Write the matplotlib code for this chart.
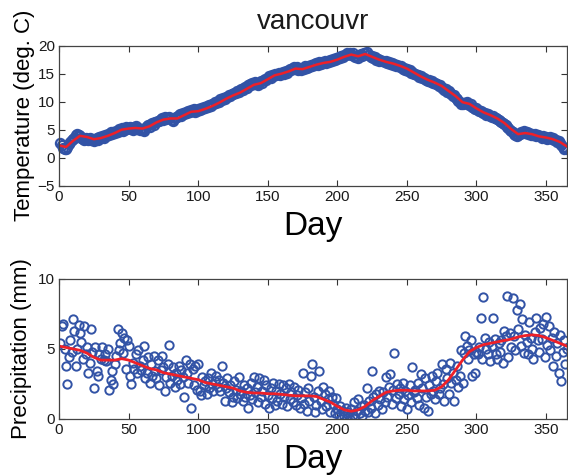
import numpy as np
import matplotlib
matplotlib.use("Agg")
import matplotlib.pyplot as plt

plt.rcParams['font.family'] = ['Liberation Sans', 'DejaVu Sans']

title = "vancouvr"
xlabel = "Day"
temp_label = "Temperature (deg. C)"
precip_label = "Precipitation (mm)"
xticks = [0, 50, 100, 150, 200, 250, 300, 350]
temp_ticks = [-5, 0, 5, 10, 15, 20]
precip_ticks = [0, 5, 10]

days = list(range(1, 366))

temperature = [
    2.6, 2.3, 1.8, 1.5, 1.6, 1.9, 2.4, 2.8, 3.1, 3.3,
    3.6, 4.0, 4.3, 4.1, 3.8, 3.6, 3.4, 3.2, 3.5, 3.4,
    3.2, 3.5, 3.1, 3.3, 3.0, 3.4, 3.6, 3.2, 3.7, 3.5,
    3.8, 3.6, 4.1, 3.9, 4.2, 4.0, 4.5, 4.3, 4.6, 4.4,
    4.8, 4.6, 5.1, 4.9, 5.3, 4.8, 5.0, 5.4, 5.1, 5.3,
    5.5, 5.2, 5.0, 5.4, 5.6, 5.2, 5.3, 4.9, 5.1, 5.0,
    4.7, 5.3, 5.6, 5.8, 5.5, 6.0, 6.2, 5.9, 6.4, 6.3,
    6.6, 6.5, 6.9, 7.1, 6.8, 7.2, 6.9, 7.0, 7.3, 7.1,
    6.8, 6.6, 7.0, 7.3, 7.2, 7.6, 7.8, 7.5, 8.0, 7.8,
    8.2, 8.0, 8.4, 8.1, 8.5, 8.3, 8.6, 8.2, 8.4, 8.7,
    8.5, 8.8, 8.6, 9.0, 8.8, 9.2, 9.0, 9.4, 9.3, 9.6,
    9.5, 9.9, 9.7, 10.1, 10.0, 10.4, 10.3, 10.7, 10.5, 10.9,
    10.8, 11.2, 11.0, 11.4, 11.3, 11.6, 11.5, 11.9, 11.7, 12.0,
    12.2, 12.0, 12.5, 12.7, 12.4, 12.9, 13.2, 13.0, 13.4, 13.1,
    13.5, 13.2, 13.0, 13.4, 13.6, 13.3, 13.8, 14.1, 13.9, 14.3,
    14.5, 14.2, 14.8, 14.6, 15.0, 14.7, 14.9, 15.2, 14.8, 15.1,
    15.3, 15.0, 15.5, 15.2, 15.7, 15.9, 15.6, 16.0, 16.2, 15.8,
    16.1, 15.7, 15.9, 15.6, 16.0, 15.8, 16.3, 16.0, 16.4, 16.2,
    16.6, 16.3, 16.7, 16.5, 16.9, 16.6, 17.0, 16.8, 17.1, 16.9,
    17.2, 16.9, 17.3, 17.0, 17.4, 17.2, 17.6, 17.4, 17.8, 17.6,
    18.0, 17.8, 18.2, 18.0, 18.4, 18.3, 18.6, 18.5, 18.7, 18.4,
    18.6, 18.2, 17.9, 18.1, 17.8, 18.3, 18.5, 18.2, 18.7, 18.6,
    18.8, 18.4, 18.3, 17.9, 18.1, 17.7, 17.9, 17.5, 17.6, 17.3,
    17.5, 17.2, 17.3, 17.0, 17.2, 16.9, 17.0, 16.7, 16.9, 16.6,
    16.7, 16.4, 16.6, 16.3, 16.1, 16.3, 15.9, 16.0, 15.7, 15.8,
    15.5, 15.6, 15.2, 15.3, 15.0, 14.9, 14.7, 14.8, 14.4, 14.5,
    14.2, 14.3, 14.0, 13.9, 13.7, 13.8, 13.5, 13.6, 13.3, 13.4,
    13.1, 13.2, 12.8, 12.9, 12.5, 12.4, 12.1, 12.2, 11.8, 11.9,
    11.5, 11.4, 11.0, 11.1, 10.7, 10.5, 10.2, 9.9, 9.6, 9.5,
    9.8, 9.7, 9.9, 9.6, 9.4, 9.5, 9.1, 8.9, 8.7, 8.8,
    8.5, 8.3, 8.4, 8.1, 8.0, 7.9, 7.7, 7.8, 7.6, 7.5,
    7.3, 7.4, 7.1, 7.0, 6.9, 6.7, 6.5, 6.4, 6.2, 6.0,
    5.8, 5.5, 5.3, 5.0, 4.8, 4.5, 4.3, 4.0, 3.8, 4.1,
    4.3, 4.5, 4.4, 4.7, 4.4, 4.6, 4.3, 4.4, 4.1, 4.2,
    4.0, 4.2, 3.9, 4.1, 3.8, 3.9, 3.6, 3.8, 3.5, 3.7,
    3.4, 3.6, 3.7, 3.3, 3.5, 3.1, 3.2, 2.8, 3.0, 2.6,
    2.3, 1.9, 1.6, 1.8, 1.5,
]

precipitation = [
    5.4, 6.6, 6.8, 5.0, 3.8, 2.5, 4.4, 5.6, 4.8, 7.1,
    6.3, 3.8, 5.0, 6.7, 6.1, 5.5, 4.3, 6.6, 4.6, 5.1,
    3.3, 4.0, 6.4, 4.8, 2.2, 5.1, 3.4, 3.1, 4.6, 4.3,
    5.1, 4.2, 4.6, 4.1, 5.0, 2.1, 2.8, 3.4, 2.5, 3.9,
    4.5, 6.4, 4.9, 5.4, 6.1, 4.7, 5.8, 3.6, 5.6, 5.2,
    3.1, 2.5, 4.0, 3.6, 4.6, 3.3, 4.9, 3.8, 3.5, 4.2,
    5.2, 2.9, 3.3, 4.4, 2.6, 3.9, 3.1, 4.5, 3.4, 2.9,
    4.2, 2.4, 3.5, 4.5, 3.7, 2.0, 3.0, 3.9, 5.3, 2.6,
    3.1, 3.7, 2.3, 3.3, 2.8, 3.8, 2.5, 3.5, 3.0, 1.6,
    4.2, 3.3, 2.6, 3.9, 0.8, 3.6, 2.4, 3.8, 2.1, 3.9,
    2.0, 1.7, 3.0, 2.4, 2.7, 1.8, 2.9, 2.2, 3.3, 2.5,
    2.0, 2.7, 3.1, 2.3, 2.8, 2.0, 3.8, 2.6, 1.3, 2.2,
    2.9, 1.9, 2.4, 1.2, 1.6, 2.7, 2.1, 1.5, 3.0, 1.8,
    2.0, 1.3, 2.4, 1.6, 2.2, 0.8, 1.7, 2.6, 1.4, 3.0,
    1.9, 2.3, 1.2, 2.9, 1.6, 2.0, 2.8, 1.1, 2.4, 1.7,
    0.8, 2.2, 1.5, 2.6, 1.0, 2.0, 1.3, 2.5, 1.8, 1.1,
    2.4, 1.6, 2.2, 0.9, 2.5, 1.4, 1.9, 1.2, 2.3, 1.0,
    1.7, 2.1, 0.8, 1.5, 3.3, 1.1, 1.9, 0.6, 2.2, 1.3,
    3.1, 3.9, 1.6, 0.5, 1.0, 2.0, 3.4, 1.3, 0.7, 2.3,
    1.8, 0.9, 1.4, 2.0, 0.5, 1.6, 1.1, 0.4, 1.5, 0.7,
    0.3, 0.9, 0.0, 0.6, 0.2, 0.8, 0.1, 0.5, 0.0, 0.7,
    0.3, 1.2, 0.1, 0.6, 1.4, 0.4, 0.9, 0.2, 1.0, 0.6,
    2.2, 0.5, 1.3, 0.8, 3.4, 1.6, 0.4, 1.8, 1.0, 2.0,
    1.4, 0.7, 1.9, 1.2, 3.0, 1.6, 2.3, 3.2, 1.1, 2.1,
    4.7, 1.5, 2.5, 1.8, 2.2, 0.9, 2.6, 1.4, 2.0, 0.7,
    1.7, 2.4, 1.2, 3.7, 1.9, 2.1, 1.5, 2.6, 1.0, 3.2,
    2.2, 0.8, 2.9, 1.6, 0.6, 2.4, 1.8, 3.1, 2.0, 1.4,
    2.7, 3.3, 1.8, 2.2, 3.9, 2.5, 1.3, 3.6, 2.9, 1.8,
    4.0, 2.6, 3.3, 1.3, 2.8, 3.8, 2.3, 3.1, 4.9, 2.6,
    4.7, 5.9, 5.2, 4.3, 4.9, 5.6, 3.1, 4.6, 3.3, 4.8,
    4.6, 5.1, 7.2, 4.3, 8.7, 5.8, 5.0, 4.6, 5.5, 4.1,
    5.2, 7.2, 5.7, 4.6, 4.3, 5.4, 4.8, 5.6, 4.0, 6.3,
    5.9, 8.8, 4.4, 6.1, 5.1, 8.6, 5.9, 4.9, 7.8, 6.4,
    8.2, 5.2, 7.1, 4.7, 6.0, 5.5, 4.6, 6.9, 5.8, 5.0,
    4.3, 6.2, 7.2, 5.6, 4.8, 6.5, 5.7, 6.8, 4.4, 7.3,
    5.3, 6.6, 4.9, 5.8, 3.8, 6.2, 4.5, 5.4, 3.3, 6.0,
    2.7, 4.8, 5.6, 3.9, 5.0,
]

trend_days = list(range(0, 370, 5))
temp_trend = [
    2.2, 1.9, 3.0, 3.9, 3.7, 3.3, 3.5, 3.9, 4.4, 5.0,
    5.2, 5.3, 5.2, 5.6, 6.3, 6.8, 7.0, 7.0, 7.6, 8.2,
    8.3, 8.7, 9.2, 9.8, 10.5, 11.1, 11.6, 12.3, 13.0, 13.3,
    14.0, 14.7, 15.0, 15.4, 15.9, 15.8, 16.2, 16.6, 16.9, 17.1,
    17.5, 18.0, 18.4, 18.1, 18.5, 18.0, 17.5, 17.1, 16.8, 16.4,
    15.9, 15.2, 14.5, 13.9, 13.4, 12.8, 11.9, 11.0, 9.9, 9.6,
    8.8, 8.1, 7.6, 7.0, 6.2, 5.1, 4.2, 4.4, 4.2, 3.8,
    3.6, 3.3, 2.8, 2.0,
]
precip_trend = [
    5.2, 5.1, 5.0, 4.9, 4.7, 4.4, 4.2, 4.2, 4.2, 4.3,
    4.2, 4.0, 3.8, 3.6, 3.5, 3.3, 3.2, 3.1, 3.0, 2.9,
    2.8, 2.6, 2.5, 2.4, 2.3, 2.2, 2.0, 1.9, 1.85, 1.85,
    1.8, 1.8, 1.75, 1.7, 1.65, 1.65, 1.65, 1.6, 1.4, 1.2,
    0.9, 0.65, 0.55, 0.65, 0.9, 1.3, 1.6, 1.9, 2.0, 2.05,
    2.05, 2.0, 2.0, 2.0, 2.05, 2.3, 2.8, 3.5, 4.2, 4.8,
    5.1, 5.3, 5.4, 5.5, 5.6, 5.7, 5.85, 5.95, 6.0, 5.95,
    5.8, 5.6, 5.4, 5.2,
]

blue = '#3253a6'
red = '#ee2028'
txt = '#1a1a1a'

fig = plt.figure(figsize=(5.68, 4.75), dpi=100)
ax1 = fig.add_axes([0.104, 0.609, 0.894, 0.295])
ax2 = fig.add_axes([0.104, 0.118, 0.894, 0.295])

ax1.plot(days, temperature, 'o', mfc='none', mec=blue, ms=6.6, mew=1.6, clip_on=False)
ax1.plot(trend_days, temp_trend, '-', color=red, lw=1.8)
ax2.plot(days, precipitation, 'o', mfc='none', mec=blue, ms=6.0, mew=1.4)
ax2.plot(trend_days, precip_trend, '-', color=red, lw=2.0)

for ax, yt in ((ax1, temp_ticks), (ax2, precip_ticks)):
    ax.set_xlim(0, 365)
    ax.set_xticks(xticks)
    ax.set_yticks(yt)
    ax.set_ylim(yt[0], yt[-1])
    ax.tick_params(direction='in', top=True, right=True, length=4, width=0.8,
                   labelsize=11, colors='#333333', labelcolor=txt, pad=3)
    for s in ax.spines.values():
        s.set_color('#444444')
        s.set_linewidth(0.9)
    ax.set_xlabel(xlabel, fontsize=24, color='black', labelpad=5)

ax1.set_ylabel(temp_label, fontsize=16, color='black', labelpad=2)
ax2.set_ylabel(precip_label, fontsize=16, color='black', labelpad=4)
ax1.set_title(title, fontsize=20, color=txt, pad=12)

fig.savefig('out.png', dpi=100)
